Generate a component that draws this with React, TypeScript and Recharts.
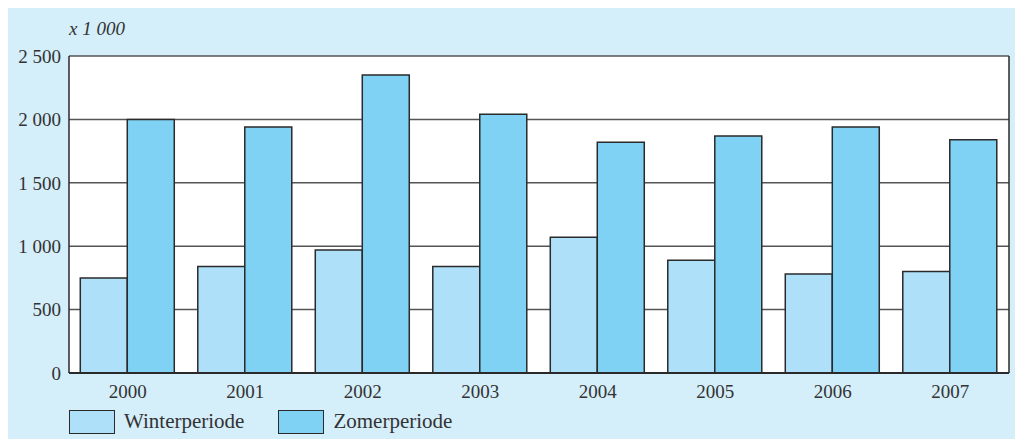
import { Bar, BarChart, CartesianGrid, Legend, XAxis, YAxis } from 'recharts';

const years = ['2000', '2001', '2002', '2003', '2004', '2005', '2006', '2007'];
const winter = [750, 840, 970, 840, 1070, 890, 780, 800];
const zomer = [2000, 1940, 2350, 2040, 1820, 1870, 1940, 1840];
const yTicks = [0, 500, 1000, 1500, 2000, 2500];

const colors = {
    winter: "#aee0f9",
    zomer: "#80d2f4",
    panel: "#d4eefa",
    edge: "#2a2a2a",
}

const font = '"Liberation Serif", "DejaVu Serif", serif';

const data = years.map((y, i) => ({ year: y, winter: winter[i], zomer: zomer[i] }));

const fmt = (v: number) => v >= 1000 ? `${Math.floor(v / 1000)} ${String(v % 1000).padStart(3, '0')}` : `${v}`;

const LegendBox = () => (
    <div style={{ display: 'flex', alignItems: 'center', fontFamily: font, fontSize: 21, color: '#333', paddingLeft: 61, paddingTop: 4 }}>
        <span style={{ width: 44, height: 22, background: colors.winter, border: `1.5px solid ${colors.edge}`, display: 'inline-block' }} />
        <span style={{ marginLeft: 9, marginRight: 34 }}>Winterperiode</span>
        <span style={{ width: 44, height: 22, background: colors.zomer, border: `1.5px solid ${colors.edge}`, display: 'inline-block' }} />
        <span style={{ marginLeft: 9 }}>Zomerperiode</span>
    </div>
)

const App = () => {
    return (
        <>
            <style>{'html,body{margin:0;padding:0;overflow:hidden}'}</style>
            <div style={{ position: 'absolute', left: 8, top: 8, width: 1007, height: 431, background: colors.panel }}>
                <span style={{ position: 'absolute', left: 61, top: 10, fontFamily: font, fontStyle: 'italic', fontSize: 19, color: '#333' }}>
                    x 1 000
                </span>
                <BarChart
                    width={1007}
                    height={431}
                    data={data}
                    barCategoryGap="9.6%"
                    barGap={0}
                    margin={{ top: 48, right: 0, left: 0, bottom: 0 }}
                >
                    <CartesianGrid vertical={false} stroke="#555" strokeWidth={1.5} fill="#ffffff" />
                    <XAxis
                        dataKey="year"
                        height={32}
                        tickLine={false}
                        axisLine={{ stroke: colors.edge, strokeWidth: 2 }}
                        tick={{ fill: '#333', fontSize: 19, fontFamily: font, dy: 4 }}
                    />
                    <XAxis xAxisId="top" orientation="top" dataKey="year" height={0} tick={false} tickLine={false} axisLine={{ stroke: colors.edge, strokeWidth: 1.5 }} />
                    <YAxis
                        domain={[0, 2500]}
                        ticks={yTicks}
                        width={61}
                        tickLine={false}
                        tickFormatter={fmt}
                        axisLine={{ stroke: colors.edge, strokeWidth: 1.5 }}
                        tick={{ fill: '#333', fontSize: 19, fontFamily: font }}
                        tickMargin={2}
                    />
                    <YAxis yAxisId="right" orientation="right" width={6} tick={false} tickLine={false} axisLine={{ stroke: colors.edge, strokeWidth: 1.5 }} />
                    <Legend verticalAlign="bottom" align="left" height={34} content={() => <LegendBox />} />
                    <Bar dataKey="winter" name="Winterperiode" fill={colors.winter} stroke={colors.edge} strokeWidth={1.5} isAnimationActive={false} />
                    <Bar dataKey="zomer" name="Zomerperiode" fill={colors.zomer} stroke={colors.edge} strokeWidth={1.5} isAnimationActive={false} />
                </BarChart>
            </div>
        </>
    )
}

export default App;
